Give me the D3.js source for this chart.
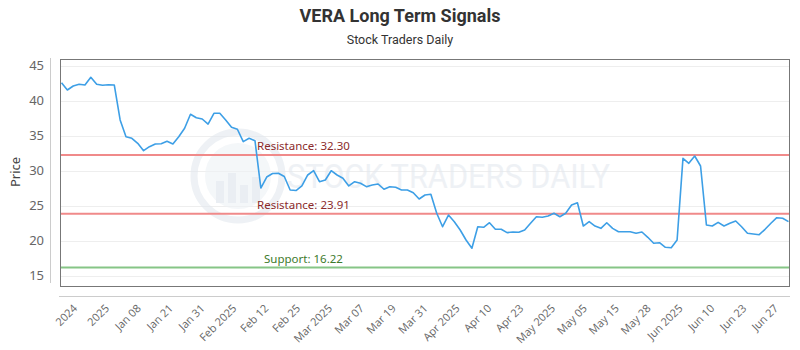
<!DOCTYPE html>
<html><head><meta charset="utf-8">
<script src="https://cdn.jsdelivr.net/npm/d3@7"></script>
<style>body{margin:0;background:#fff;} svg{display:block;}</style>
</head><body>
<div id="chart"></div>
<script>
const title = "VERA Long Term Signals";
const subtitle = "Stock Traders Daily";
const prices = [
42.61,41.57,42.14,42.39,42.29,43.39,42.39,42.24,42.33,42.29,
37.29,34.90,34.67,33.96,32.90,33.47,33.86,33.90,34.24,33.86,
34.90,36.10,38.10,37.61,37.43,36.71,38.24,38.24,37.29,36.24,
35.96,34.19,34.67,34.33,27.57,29.14,29.64,29.67,29.21,27.29,
27.21,27.86,29.43,30.04,28.47,28.71,30.04,29.43,28.96,27.86,
28.47,28.24,27.76,28.00,28.14,27.39,27.76,27.67,27.29,27.29,
26.90,26.00,26.57,26.67,23.96,22.04,23.71,22.76,21.57,20.14,
18.96,22.04,21.96,22.61,21.67,21.67,21.19,21.29,21.24,21.57,
22.53,23.47,23.39,23.57,23.96,23.47,23.96,25.14,25.47,22.14,
22.76,22.14,21.81,22.61,21.81,21.33,21.33,21.33,21.10,21.29,
20.53,19.67,19.76,19.10,19.04,20.14,31.81,31.10,32.14,30.71,
22.29,22.14,22.67,22.14,22.53,22.86,22.04,21.10,21.00,20.90,
21.67,22.53,23.33,23.24,22.76
];
const xTickLabels = ["2024","2025","Jan 08","Jan 21","Jan 31","Feb 2025","Feb 12","Feb 25","Mar 2025","Mar 07","Mar 19","Mar 31","Apr 2025","Apr 10","Apr 23","May 2025","May 05","May 15","May 28","Jun 2025","Jun 10","Jun 23","Jun 27"];
const yTicks = [15,20,25,30,35,40,45];
const levelNames = ["Resistance: 32.30","Resistance: 23.91","Support: 16.22"];
const levelValues = [32.30, 23.91, 16.22];
const levelKinds = ["res","res","sup"];

const W = 800, H = 350;
const box = {l:60, r:790, t:59, b:286};
const svg = d3.select("#chart").append("svg").attr("width",W).attr("height",H);

const y = d3.scaleLinear().domain([13.571, 46]).range([box.b, box.t]);
const x = d3.scaleLinear().domain([0, prices.length-1]).range([61.5, 788.5]);
const xl = d3.scalePoint().domain(xTickLabels).range([78, 779]);

// gridlines
svg.append("g").selectAll("line").data(yTicks).join("line")
  .attr("x1",box.l).attr("x2",box.r)
  .attr("y1",d=>Math.round(y(d))+0.5).attr("y2",d=>Math.round(y(d))+0.5)
  .attr("stroke","#eeeeee").attr("stroke-width",1);

// watermark
const wm = svg.append("g").attr("opacity",0.6);
wm.append("circle").attr("cx",238).attr("cy",176).attr("r",44).attr("fill","none").attr("stroke","#e3e9ef").attr("stroke-width",7);
wm.append("circle").attr("cx",238).attr("cy",176).attr("r",33).attr("fill","#eef2f6");
[[216,8,22],[228,8,30],[240,8,18],[252,8,26]].forEach(b=>{
  wm.append("rect").attr("x",b[0]).attr("y",203-b[2]).attr("width",b[1]).attr("height",b[2]).attr("fill","#dde4ec");
});
wm.append("text").attr("x",287).attr("y",188).attr("font-family","'Liberation Sans Narrow','Roboto',sans-serif")
  .attr("font-size",34).attr("fill","#e4e9ef").attr("textLength",323).attr("lengthAdjust","spacingAndGlyphs").text("STOCK TRADERS DAILY");

// level lines
svg.append("g").selectAll("line").data(levelValues).join("line")
  .attr("x1",box.l).attr("x2",box.r)
  .attr("y1",d=>y(d)).attr("y2",d=>y(d))
  .attr("stroke",(d,i)=>levelKinds[i]==="res"?"#f08a8a":"#86c586").attr("stroke-width",2);

// price line
svg.append("path").datum(prices)
  .attr("d", d3.line().x((d,i)=>x(i)).y(d=>y(d)))
  .attr("fill","none").attr("stroke","#3d9fe6").attr("stroke-width",1.6).attr("stroke-linejoin","round");

// level labels
svg.append("g").selectAll("text").data(levelNames).join("text")
  .attr("x",(d,i)=>levelKinds[i]==="res"?257:264)
  .attr("y",(d,i)=>y(levelValues[i])-4.5)
  .attr("font-family","'Noto Sans','Open Sans',sans-serif").attr("font-size",11.5)
  .attr("fill",(d,i)=>levelKinds[i]==="res"?"#8b2b2b":"#3d7a2c")
  .text(d=>d);

// plot box
svg.append("rect").attr("x",box.l+0.5).attr("y",box.t+0.5).attr("width",box.r-box.l-1).attr("height",box.b-box.t)
  .attr("fill","none").attr("stroke","#777").attr("stroke-width",1);

// outer axis lines
svg.append("line").attr("x1",50.5).attr("x2",50.5).attr("y1",58).attr("y2",283).attr("stroke","#ccc");
svg.append("line").attr("x1",59).attr("x2",790).attr("y1",296.5).attr("y2",296.5).attr("stroke","#ccc");

// y axis labels
svg.append("g").selectAll("text").data(yTicks).join("text")
  .attr("x",44).attr("y",d=>y(d)+4.5).attr("text-anchor","end")
  .attr("font-family","'Noto Sans','Open Sans',sans-serif").attr("font-size",13).attr("fill","#666")
  .text(d=>d);
svg.append("text").attr("transform","translate(20,172) rotate(-90)").attr("text-anchor","middle")
  .attr("font-family","'Noto Sans','Open Sans',sans-serif").attr("font-size",13).attr("fill","#444").text("Price");

// x axis labels
svg.append("g").selectAll("text").data(xTickLabels).join("text")
  .attr("transform",d=>`translate(${xl(d)},309) rotate(-45)`).attr("text-anchor","end")
  .attr("font-family","'Open Sans','Noto Sans',sans-serif").attr("font-size",11).attr("fill","#666")
  .text(d=>d);

// titles
svg.append("text").attr("x",400).attr("y",22).attr("text-anchor","middle")
  .attr("font-family","'Liberation Sans Narrow','Roboto',sans-serif").attr("font-weight","bold").attr("font-size",18).attr("fill","#333")
  .text(title);
svg.append("text").attr("x",400).attr("y",44).attr("text-anchor","middle")
  .attr("font-family","'Liberation Sans Narrow','Roboto',sans-serif").attr("font-size",12.5).attr("fill","#333")
  .text(subtitle);
</script>
</body></html>
